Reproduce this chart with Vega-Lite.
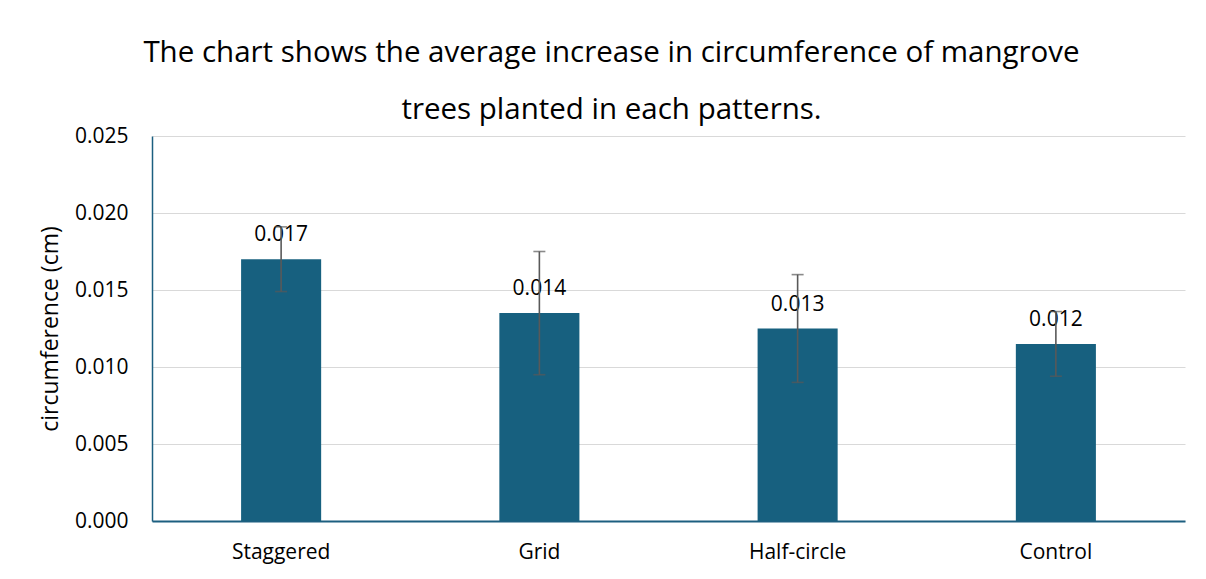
{
  "$schema": "https://vega.github.io/schema/vega-lite/v6.json",
  "width": 1033,
  "height": 385,
  "autosize": {"type": "none"},
  "padding": {"left": 152, "top": 136, "right": 21, "bottom": 58},
  "background": "white",
  "config": {"view": {"stroke": null}},
  "title": {
    "text": ["The chart shows the average increase in circumference of mangrove", "trees planted in each patterns."],
    "font": "Open Sans",
    "fontSize": 29.5,
    "fontWeight": 500,
    "color": "#000000",
    "lineHeight": 57,
    "anchor": "middle",
    "dx": -57,
    "offset": 0
  },
  "data": {
    "values": [
      {"pattern": "Staggered", "value": 0.0170, "lo": 0.0149, "hi": 0.0191, "label": "0.017"},
      {"pattern": "Grid", "value": 0.0135, "lo": 0.0095, "hi": 0.0175, "label": "0.014"},
      {"pattern": "Half-circle", "value": 0.0125, "lo": 0.0090, "hi": 0.0160, "label": "0.013"},
      {"pattern": "Control", "value": 0.0115, "lo": 0.0094, "hi": 0.0136, "label": "0.012"}
    ]
  },
  "encoding": {
    "x": {
      "field": "pattern",
      "type": "nominal",
      "sort": null,
      "scale": {"paddingInner": 0.69, "paddingOuter": 0.345},
      "axis": {
        "title": null,
        "labelAngle": 0,
        "labelFont": "Open Sans",
        "labelFontSize": 21,
        "labelColor": "#000000",
        "labelPadding": 20,
        "ticks": false,
        "tickSize": 0,
        "domainColor": "#1C5F80",
        "domainWidth": 2,
        "grid": false
      }
    }
  },
  "layer": [
    {
      "mark": {"type": "bar", "color": "#17607F"},
      "encoding": {
        "y": {
          "field": "value",
          "type": "quantitative",
          "scale": {"domain": [0, 0.025], "nice": false},
          "axis": {
            "values": [0, 0.005, 0.01, 0.015, 0.02, 0.025],
            "format": ".3f",
            "title": "circumference (cm)",
            "titleFont": "Open Sans",
            "titleFontSize": 23,
            "titleFontWeight": "normal",
            "titleColor": "#000000",
            "titlePadding": 12,
            "labelFont": "Open Sans",
            "labelFontSize": 21,
            "labelColor": "#000000",
            "labelPadding": 24,
            "ticks": false,
            "tickSize": 0,
            "domainColor": "#1C5F80",
            "domainWidth": 1.5,
            "gridColor": "#D9D9D9",
            "gridWidth": 1.2
          }
        }
      }
    },
    {
      "mark": {"type": "text", "dy": -18, "baseline": "alphabetic", "align": "center", "font": "Open Sans", "fontSize": 21, "color": "#000000"},
      "encoding": {
        "y": {"field": "value", "type": "quantitative"},
        "text": {"field": "label"}
      }
    },
    {
      "mark": {"type": "rule", "color": "#595959", "strokeWidth": 1.6},
      "encoding": {
        "y": {"field": "lo", "type": "quantitative"},
        "y2": {"field": "hi"}
      }
    },
    {
      "mark": {"type": "tick", "color": "#595959", "thickness": 1.6, "size": 12},
      "encoding": {"y": {"field": "lo", "type": "quantitative"}}
    },
    {
      "mark": {"type": "tick", "color": "#595959", "thickness": 1.6, "size": 12},
      "encoding": {"y": {"field": "hi", "type": "quantitative"}}
    }
  ]
}
